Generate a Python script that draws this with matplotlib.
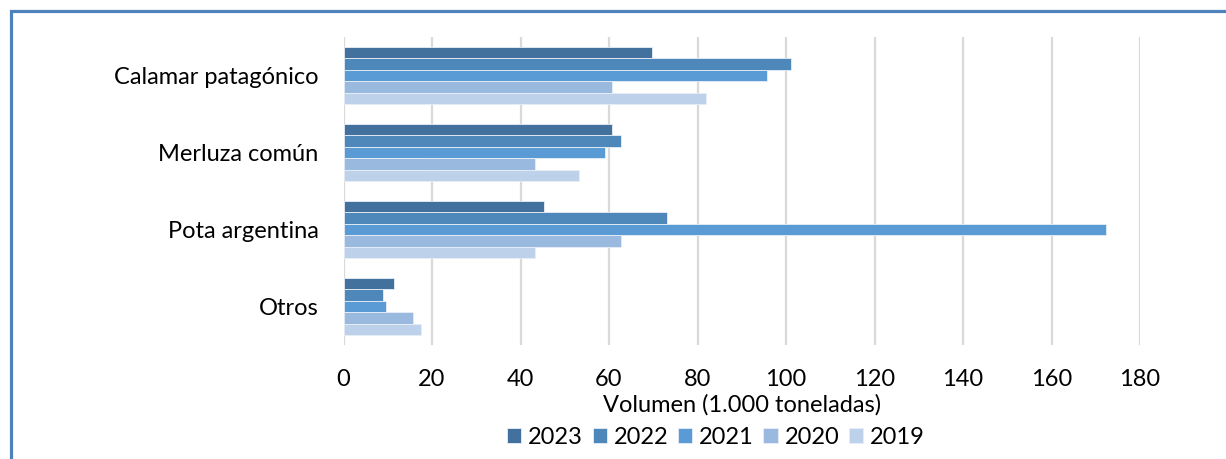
import matplotlib
matplotlib.use("Agg")
import matplotlib.pyplot as plt
import numpy as np
from matplotlib.patches import Rectangle

# ── Data (thousand tonnes) ─────────────────────────────────────────────
categories = ["Calamar patagónico", "Merluza común", "Pota argentina", "Otros"]
years = ["2023", "2022", "2021", "2020", "2019"]
v2023 = [69.7, 60.6, 45.2, 11.3]
v2022 = [101.1, 62.7, 73.0, 8.9]
v2021 = [95.6, 59.1, 172.4, 9.5]
v2020 = [60.6, 43.2, 62.6, 15.7]
v2019 = [81.9, 53.3, 43.3, 17.5]
xticks = [0, 20, 40, 60, 80, 100, 120, 140, 160, 180]

series = [v2023, v2022, v2021, v2020, v2019]
colours = ["#41719c", "#4e87ba", "#5b9bd5", "#99b9df", "#bdd1eb"]

plt.rcParams['font.family'] = ['Lato', 'DejaVu Sans']
FS = 17

W, H = 1226, 459
fig = plt.figure(figsize=(W / 100, H / 100), dpi=100)
ax = fig.add_axes([343.5 / W, 1 - 345 / H, (1140 - 343.5) / W, (345 - 37) / H])

y = np.arange(len(categories))
bar_h = 0.149
for i, (vals, col, yr) in enumerate(zip(series, colours, years)):
    offset = (i - 2) * bar_h
    ax.barh(y + offset, vals, height=bar_h, color=col, label=yr,
            edgecolor="#e8eef7", linewidth=0.6, zorder=3)

ax.set_xlim(0, 180)
ax.set_ylim(3.5, -0.5)
ax.set_xticks(xticks)
ax.set_yticks(y)
ax.set_yticklabels(categories, fontsize=FS)
ax.tick_params(axis='y', length=0, pad=18)
ax.tick_params(axis='x', length=0, pad=17, labelsize=FS)
ax.grid(axis='x', color="#d9d9d9", linewidth=1.6, zorder=0)
for s in ax.spines.values():
    s.set_visible(False)

ax.set_xlabel("Volumen (1.000 toneladas)", fontsize=FS, labelpad=3)

fig.legend(loc='center', bbox_to_anchor=(716 / W, 1 - 437 / H), ncol=5,
           frameon=False, fontsize=FS, handlelength=0.6, handleheight=0.6,
           handletextpad=0.3, columnspacing=0.4, borderaxespad=0)

# blue frame around the chart (left and top edges visible)
fig.patches.append(Rectangle((10.5 / W, -0.1), 1.2, 1 - 10.5 / H + 0.1,
                             transform=fig.transFigure, fill=False,
                             edgecolor="#4f81bd", linewidth=2.3))

fig.savefig("out.png", dpi=100)
